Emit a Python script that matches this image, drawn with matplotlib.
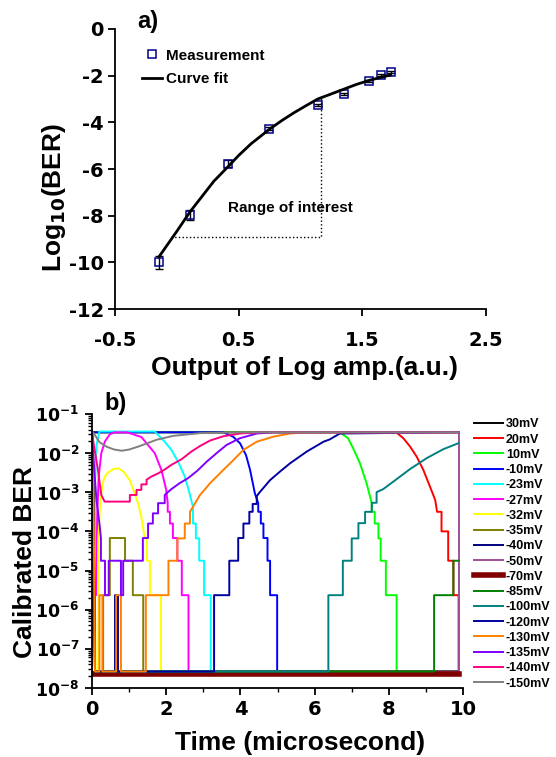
import numpy as np
import matplotlib
matplotlib.use('Agg')
import matplotlib.pyplot as plt
from matplotlib.ticker import LogLocator, NullFormatter, MultipleLocator

plt.rcParams['font.family'] = ['Liberation Sans', 'DejaVu Sans']
plt.rcParams['font.weight'] = 'bold'
plt.rcParams['axes.unicode_minus'] = False
plt.rcParams['mathtext.fontset'] = 'custom'
plt.rcParams['mathtext.rm'] = 'DejaVu Sans:bold'
plt.rcParams['mathtext.bf'] = 'DejaVu Sans:bold'
plt.rcParams['mathtext.default'] = 'bf'

TICKFONT = {'family': 'DejaVu Sans', 'weight': 'bold'}

# ---- panel a) : log10(BER) versus log amp output
meas_x = [-0.144, 0.106, 0.414, 0.748, 1.141, 1.348, 1.556, 1.647, 1.734]
meas_y = [-10.0, -7.97, -5.77, -4.27, -3.26, -2.80, -2.24, -1.97, -1.84]
meas_err = [0.29, 0.23, 0.16, 0.05, 0.05, 0.05, 0.05, 0.05, 0.05]

fit_x = [-0.144, -0.07, 0.0, 0.106, 0.2, 0.3, 0.414, 0.5, 0.6, 0.748, 0.85, 0.95, 1.05, 1.14, 1.25, 1.35, 1.45, 1.556, 1.65, 1.73]
fit_y = [-9.76, -9.2, -8.67, -7.84, -7.2, -6.52, -5.9, -5.42, -4.92, -4.30, -3.92, -3.58, -3.27, -3.0, -2.78, -2.58, -2.38, -2.2, -2.07, -1.97]

roi_x = [-0.047, 1.165, 1.165]
roi_y = [-8.92, -8.92, -2.87]

# ---- panel b) : calibrated BER (log10) versus time, one series per offset
labels = ['30mV', '20mV', '10mV', '-10mV', '-23mV', '-27mV', '-32mV', '-35mV', '-40mV',
          '-50mV', '-70mV', '-85mV', '-100mV', '-120mV', '-130mV', '-135mV', '-140mV', '-150mV']
colors = ['#000000', '#ff0000', '#00ff00', '#0000ff', '#00ffff', '#ff00ff', '#ffff00', '#808000',
          '#000080', '#a0509a', '#800000', '#008000', '#008080', '#0000a0', '#ff8000', '#8000ff',
          '#ff0080', '#808080']

t_30 = [0, 9.88]
lg_30 = [-1.45, -1.45]

t_20 = [0, 8.2, 8.39, 8.57, 8.75, 8.93, 9.11, 9.25, 9.3, 9.42, 9.42, 9.6, 9.6, 9.74, 9.74, 9.88, 9.88]
lg_20 = [-1.47, -1.47, -1.62, -1.83, -2.09, -2.43, -2.86, -3.2, -3.5, -3.5, -4.0, -4.0, -4.75, -4.75, -5.63, -5.63, -7.58]

t_10 = [0, 6.68, 6.9, 7.05, 7.22, 7.4, 7.54, 7.54, 7.62, 7.62, 7.72, 7.72, 7.78, 7.78, 7.92, 7.92, 8.21, 8.21, 9.88]
lg_10 = [-1.47, -1.47, -1.62, -1.9, -2.26, -2.77, -3.28, -3.5, -3.5, -3.8, -3.8, -4.18, -4.18, -4.75, -4.75, -5.63, -5.63, -7.58, -7.58]

t_m10 = [0, 3.54, 3.8, 3.99, 4.15, 4.26, 4.39, 4.48, 4.48, 4.55, 4.55, 4.62, 4.62, 4.73, 4.73, 4.80, 4.80, 4.99, 4.99, 9.88]
lg_m10 = [-1.47, -1.47, -1.58, -1.75, -2.05, -2.43, -3.03, -3.28, -3.5, -3.5, -3.8, -3.8, -4.17, -4.17, -4.75, -4.75, -5.63, -5.63, -7.58, -7.58]

t_m23 = [0, 0.04, 0.07, 0.07, 0.12, 0.2, 1.69, 1.96, 2.14, 2.32, 2.5, 2.63, 2.72, 2.72, 2.8, 2.8, 2.89, 2.89, 3.02, 3.02, 3.2, 3.2, 9.88]
lg_m23 = [-1.47, -2.5, -4.75, -3.0, -1.8, -1.45, -1.45, -1.71, -1.92, -2.22, -2.6, -3.03, -3.37, -3.8, -3.8, -4.18, -4.18, -4.75, -4.75, -5.63, -5.63, -7.58, -7.58]

t_m27 = [0, 0.05, 0.08, 0.11, 0.14, 0.18, 0.25, 0.35, 0.48, 0.61, 0.95, 1.33, 1.69, 1.87, 2.0, 2.04, 2.04, 2.1, 2.1, 2.18,
         2.18, 2.3, 2.3, 2.42, 2.42, 2.6, 2.6, 9.88]
lg_m27 = [-1.47, -2.5, -5.63, -5.63, -3.6, -2.6, -2.0, -1.7, -1.52, -1.47, -1.47, -1.59, -2.0, -2.43, -2.94, -3.28, -3.5, -3.5, -3.8, -3.8,
          -4.17, -4.17, -4.75, -4.75, -5.63, -5.63, -7.58, -7.58]

t_m32 = [0, 0.05, 0.1, 0.17, 0.17, 0.22, 0.28, 0.34, 0.43, 0.57, 0.72, 0.85, 1.02, 1.15, 1.24, 1.33, 1.42, 1.48, 1.48, 1.56,
         1.56, 1.86, 1.86, 9.88]
lg_m32 = [-1.47, -3.0, -7.58, -7.58, -4.18, -3.3, -2.8, -2.6, -2.5, -2.41, -2.39, -2.48, -2.69, -3.03, -3.28, -3.63, -4.17, -4.18, -4.75, -4.75,
          -5.63, -5.63, -7.58, -7.58]

t_m35 = [0, 0.04, 0.08, 0.3, 0.3, 0.48, 0.48, 0.89, 0.89, 1.1, 1.1, 1.38, 1.38, 9.88]
lg_m35 = [-1.47, -3.0, -7.58, -7.58, -5.63, -5.63, -4.17, -4.17, -4.75, -4.75, -5.63, -5.63, -7.58, -7.58]

t_m40 = [0, 0.04, 0.08, 0.62, 0.62, 0.7, 0.7, 9.88]
lg_m40 = [-1.47, -3.0, -7.58, -7.58, -5.63, -5.63, -7.58, -7.58]

t_m50 = [0.01, 0.01, 9.88, 9.88]
lg_m50 = [-1.47, -7.58, -7.58, -1.47]

t_m70 = [0, 9.88]
lg_m70 = [-7.65, -7.65]

t_m85 = [0, 0.04, 0.08, 9.22, 9.22, 9.74, 9.74, 9.88]
lg_m85 = [-1.47, -3.0, -7.58, -7.58, -5.63, -5.63, -4.75, -4.75]

t_m100 = [0, 0.04, 0.08, 6.37, 6.37, 6.76, 6.76, 7.0, 7.0, 7.18, 7.18, 7.36, 7.36, 7.54, 7.54, 7.67, 7.67, 7.85, 8.12, 8.57,
          9.02, 9.47, 9.87]
lg_m100 = [-1.47, -3.0, -7.58, -7.58, -5.63, -5.63, -4.75, -4.75, -4.18, -4.18, -3.79, -3.79, -3.5, -3.5, -3.27, -3.27, -3.0, -2.92, -2.73, -2.41,
           -2.13, -1.90, -1.75]

t_m120 = [0, 0.04, 0.08, 3.29, 3.29, 3.70, 3.70, 3.94, 3.94, 4.08, 4.08, 4.24, 4.24, 4.33, 4.33, 4.44, 4.44, 4.52, 4.8, 5.07,
          5.34, 5.79, 6.24, 6.41, 6.68, 9.88]
lg_m120 = [-1.47, -3.0, -7.58, -7.58, -5.63, -5.63, -4.75, -4.75, -4.17, -4.17, -3.8, -3.8, -3.5, -3.5, -3.3, -3.3, -3.1, -3.0, -2.69, -2.47,
           -2.26, -1.96, -1.71, -1.65, -1.5, -1.47]

t_m130 = [0, 0.04, 0.08, 0.2, 0.2, 0.28, 0.28, 0.65, 0.65, 0.78, 0.78, 1.45, 1.45, 2.06, 2.06, 2.3, 2.3, 2.5, 2.5, 2.64,
          2.64, 2.78, 2.91, 3.05, 3.18, 3.36, 3.54, 3.81, 4.08, 4.44, 4.89, 5.34, 5.8, 9.88]
lg_m130 = [-1.47, -3.0, -7.58, -7.58, -5.63, -5.63, -7.58, -7.58, -5.63, -5.63, -7.58, -7.58, -5.63, -5.63, -4.75, -4.75, -4.18, -4.18, -3.8, -3.8,
           -3.5, -3.28, -3.07, -2.92, -2.77, -2.6, -2.43, -2.18, -1.92, -1.71, -1.58, -1.5, -1.47, -1.47]

t_m135 = [0, 0.05, 0.12, 0.2, 0.24, 0.24, 0.35, 0.35, 0.45, 0.45, 0.78, 0.78, 0.84, 0.84, 1.37, 1.37, 1.51, 1.51, 1.64, 1.64,
          1.78, 1.78, 1.96, 1.96, 2.14, 2.36, 2.59, 2.84, 3.09, 3.36, 3.63, 3.99, 4.44, 4.9, 9.88]
lg_m135 = [-1.47, -2.3, -3.2, -3.8, -4.17, -4.75, -4.75, -5.63, -5.63, -4.75, -4.75, -5.63, -5.63, -4.75, -4.75, -4.17, -4.17, -3.8, -3.8, -3.54,
           -3.54, -3.28, -3.28, -3.07, -2.92, -2.77, -2.64, -2.45, -2.22, -2.0, -1.79, -1.62, -1.5, -1.47, -1.47]

t_m140 = [0, 0.05, 0.16, 0.25, 0.34, 1.02, 1.02, 1.2, 1.2, 1.33, 1.33, 1.47, 1.47, 1.6, 1.78, 1.96, 2.14, 2.41, 2.68, 2.91,
          3.18, 3.54, 3.99, 4.5, 9.88]
lg_m140 = [-1.47, -1.8, -2.43, -3.07, -3.24, -3.24, -3.07, -3.07, -2.94, -2.94, -2.8, -2.8, -2.68, -2.6, -2.52, -2.42, -2.3, -2.16, -1.96, -1.82,
           -1.68, -1.57, -1.5, -1.47, -1.47]

t_m150 = [0, 0.05, 0.2, 0.4, 0.6, 0.8, 1.0, 1.29, 1.74, 2.19, 2.91, 4.0, 9.88]
lg_m150 = [-1.45, -1.5, -1.72, -1.84, -1.91, -1.94, -1.91, -1.82, -1.66, -1.56, -1.49, -1.47, -1.47]

series_t = [t_30, t_20, t_10, t_m10, t_m23, t_m27, t_m32, t_m35, t_m40,
            t_m50, t_m70, t_m85, t_m100, t_m120, t_m130, t_m135, t_m140, t_m150]
series_lg = [lg_30, lg_20, lg_10, lg_m10, lg_m23, lg_m27, lg_m32, lg_m35, lg_m40,
             lg_m50, lg_m70, lg_m85, lg_m100, lg_m120, lg_m130, lg_m135, lg_m140, lg_m150]

fig = plt.figure(figsize=(5.56, 7.57), dpi=100)

# ---------------- panel a
ax1 = fig.add_axes([0.2068, 0.5918, 0.6673, 0.3699])
ax1.errorbar(meas_x, meas_y, yerr=meas_err, fmt='none', ecolor='black', elinewidth=1.0, capsize=3, capthick=1.0)
ax1.plot(meas_x, meas_y, 's', mfc='none', mec='#00008b', mew=1.1, ms=5.5, label='Measurement')
ax1.plot(fit_x, fit_y, '-', color='black', lw=2.0, label='Curve fit')
ax1.plot(roi_x, roi_y, ':', color='black', lw=1.0)
ax1.text(0.414, -7.67, 'Range of interest', fontsize=11, fontweight='bold', va='center', ha='left')
ax1.set_xlim(-0.5, 2.5)
ax1.set_ylim(-12, 0)
ax1.set_xticks([-0.5, 0.5, 1.5, 2.5])
ax1.set_xticklabels(['-0.5', '0.5', '1.5', '2.5'], fontdict=TICKFONT)
ax1.set_yticks([0, -2, -4, -6, -8, -10, -12])
ax1.set_yticklabels(['0', '-2', '-4', '-6', '-8', '-10', '-12'], fontdict=TICKFONT)
ax1.tick_params(axis='both', direction='out', length=5, width=1.3, labelsize=14)
ax1.tick_params(axis='x', pad=11)
ax1.tick_params(axis='y', pad=3)
for s in ['top', 'right']:
    ax1.spines[s].set_visible(False)
for s in ['left', 'bottom']:
    ax1.spines[s].set_linewidth(1.3)
ax1.set_xlabel('Output of Log amp.(a.u.)', fontsize=19, fontweight='bold')
ax1.set_ylabel(r'Log$_{10}$(BER)', fontsize=19, fontweight='bold')
ax1.yaxis.set_label_coords(-0.127, 0.40)
ax1.xaxis.set_label_coords(0.51, -0.167)
ax1.legend(loc='upper left', bbox_to_anchor=(0.073, 0.93), frameon=False, borderpad=0, borderaxespad=0,
           handlelength=1.3, handletextpad=0.25, labelspacing=0.62, prop={'size': 11, 'weight': 'bold'})
fig.text(0.246, 0.971, 'a)', fontsize=17, fontweight='bold', va='center', ha='left')

# ---------------- panel b
ax2 = fig.add_axes([0.1655, 0.0912, 0.6673, 0.3620])
handles = []
for tt, lg, c, lab in zip(series_t, series_lg, colors, labels):
    lw = 4.0 if lab == '-70mV' else 1.4
    h, = ax2.plot(tt, 10.0 ** np.array(lg), '-', color=c, lw=lw, label=lab)
    handles.append(h)
ax2.set_yscale('log')
ax2.set_xlim(0, 10)
ax2.set_ylim(1e-8, 1e-1)
ax2.set_xticks([0, 2, 4, 6, 8, 10])
ax2.set_xticklabels(['0', '2', '4', '6', '8', '10'], fontdict=TICKFONT)
ax2.xaxis.set_minor_locator(MultipleLocator(1))
ax2.set_yticks([10.0 ** k for k in range(-8, 0)])
ax2.set_yticklabels([r'$10^{%d}$' % k for k in range(-8, 0)], fontsize=12.5)
ax2.yaxis.set_minor_locator(LogLocator(base=10, subs=np.arange(2, 10), numticks=20))
ax2.yaxis.set_minor_formatter(NullFormatter())
ax2.tick_params(axis='both', which='major', direction='out', length=5, width=1.3, pad=4)
ax2.tick_params(axis='x', which='major', labelsize=14)
ax2.tick_params(axis='both', which='minor', direction='out', length=3, width=1.0)
for s in ['top', 'right']:
    ax2.spines[s].set_visible(False)
for s in ['left', 'bottom']:
    ax2.spines[s].set_linewidth(1.3)
ax2.set_xlabel('Time (microsecond)', fontsize=19, fontweight='bold')
ax2.set_ylabel('Calibrated BER', fontsize=19, fontweight='bold')
ax2.yaxis.set_label_coords(-0.148, 0.46)
ax2.xaxis.set_label_coords(0.56, -0.156)
fig.legend(handles=handles, loc='upper left', bbox_to_anchor=(0.8525, 0.4474), frameon=False, borderpad=0,
           borderaxespad=0, handlelength=2.3, handletextpad=0.25, labelspacing=0.26,
           prop={'size': 9, 'weight': 'bold'})
fig.text(0.187, 0.467, 'b)', fontsize=17, fontweight='bold', va='center', ha='left')

fig.savefig('out.png', dpi=100)
